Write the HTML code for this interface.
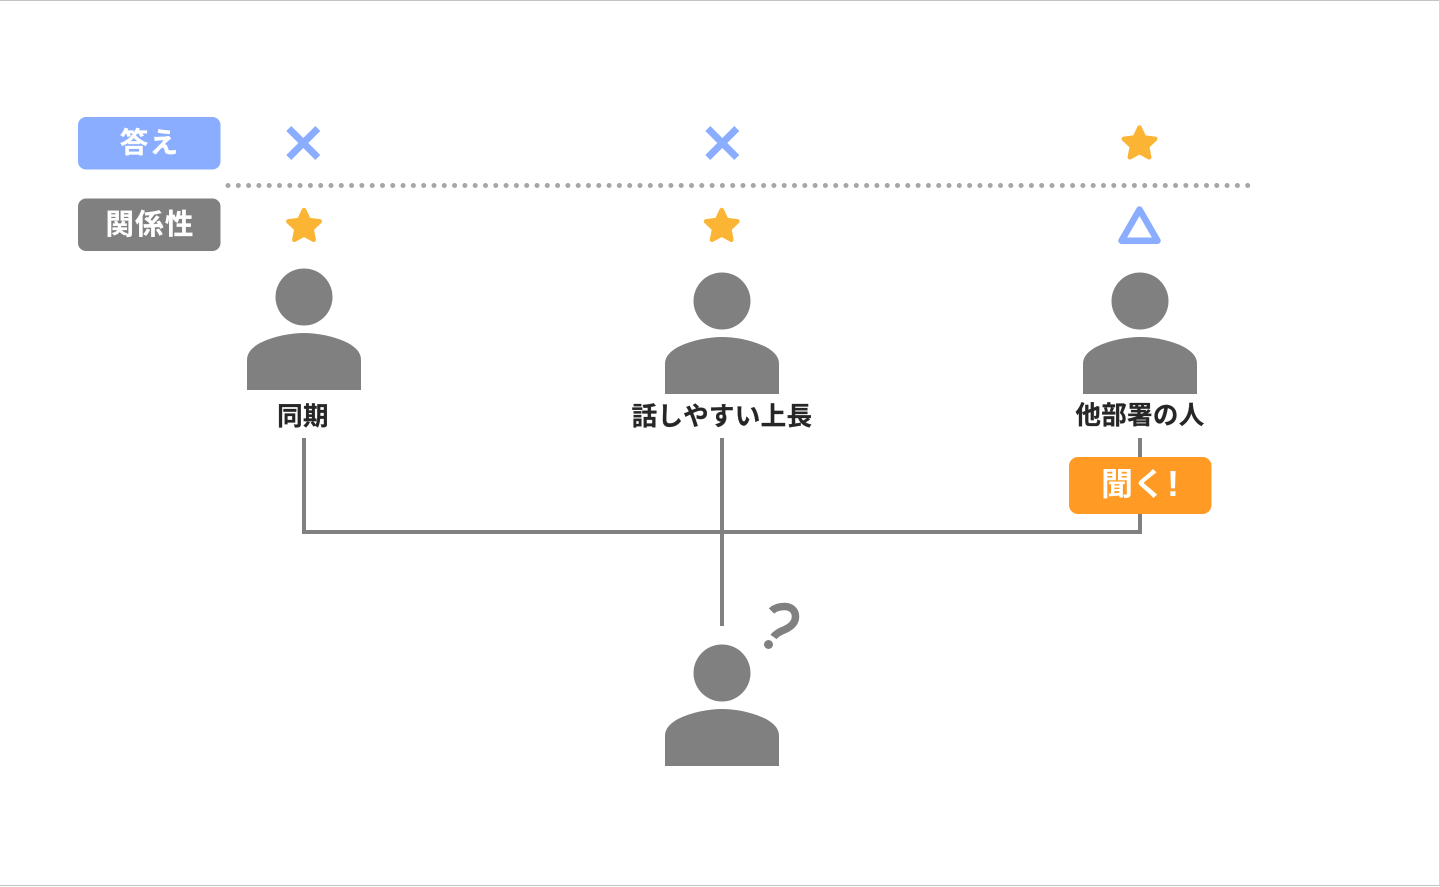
<!DOCTYPE html>
<html lang="ja"><head><meta charset="utf-8"><title>聞く相手</title>
<style>
html,body{margin:0;padding:0;background:#fff;width:1440px;height:887px;overflow:hidden}
svg{display:block}
text{font-family:"Liberation Sans","Noto Sans CJK JP",sans-serif;font-weight:700;text-anchor:middle}
.lb{fill:#262626;stroke:#262626;stroke-width:.25px;font-size:25.500px;letter-spacing:.35px}
.wh{fill:#fff;stroke:#fff;stroke-width:.25px;font-size:28.500px;letter-spacing:1.200px}
</style></head><body>
<svg width="1440" height="887" viewBox="0 0 1440 887" xmlns="http://www.w3.org/2000/svg">
<defs>
<g id="p"><circle cx="0" cy="-36" r="28.5" fill="#808080"/>
<path d="M-57 57V27C-57 19-51 14-44 10C-30 3-13 0 0 0C13 0 30 3 44 10C51 14 57 19 57 27V57Z" fill="#808080"/></g>
<polygon id="s" points="0,-16.500 4.700,-6.500 15.700,-5.100 7.600,2.500 9.700,13.300 0,8 -9.700,13.300 -7.600,2.500 -15.700,-5.100 -4.700,-6.500" fill="#fbb434" stroke="#fbb434" stroke-width="4.500" stroke-linejoin="round"/>
<path id="x" d="M-14.500-14.500L14.500 14.500M14.500-14.500L-14.500 14.500" stroke="#8aadff" stroke-width="7" fill="none"/>
</defs>
<rect x="0" y="0" width="1440" height="1" fill="#c4c4c4"/>
<rect x="1439" y="0" width="1" height="886" fill="#d8d8d8"/>
<rect x="0" y="885" width="1440" height="1" fill="#c4c4c4"/>

<rect x="78" y="117" width="142.500" height="52.500" rx="8" fill="#8aadff"/>
<text class="wh" x="149.500" y="152.500">答え</text>
<rect x="78" y="198.500" width="142.500" height="52.500" rx="8" fill="#808080"/>
<text class="wh" x="150" y="234">関係性</text>

<use href="#x" x="303.300" y="143"/>
<use href="#x" x="722.300" y="143"/>
<use href="#s" x="1139.500" y="144"/>
<line x1="228" y1="185.500" x2="1248" y2="185.500" stroke="#a6a6a6" stroke-width="5" stroke-linecap="round" stroke-dasharray="0 10.300"/>
<use href="#s" x="304" y="226.500"/>
<use href="#s" x="721.700" y="226.500"/>
<path d="M1139.500 209.500L1121.500 240.700H1157.500Z" fill="none" stroke="#8aadff" stroke-width="6.500" stroke-linejoin="round"/>

<use href="#p" x="304" y="333"/>
<use href="#p" x="722" y="337"/>
<use href="#p" x="1140" y="337"/>
<use href="#p" x="722" y="709"/>

<text class="lb" x="303" y="425">同期</text>
<text class="lb" x="722" y="425">話しやすい上長</text>
<text class="lb" x="1140" y="424">他部署の人</text>

<path d="M304 438V532H1140V438M722 438V626" fill="none" stroke="#808080" stroke-width="4"/>
<rect x="1069" y="457" width="142.500" height="57" rx="9" fill="#ff9a24"/>
<text x="1117" y="495" fill="#fff" style="font-size:32px">聞</text>
<text x="1149" y="495" fill="#fff" style="font-size:32px">く</text>
<text x="1173" y="496" fill="#fff" style="font-size:36px">!</text>

<path d="M771.500 611C775 607.500 780 606.500 784.500 606.500C791.500 606.500 795.500 611 795.500 616.500C795.500 623 790.500 627 785 629.500C780 631.500 776 633.500 773.500 637" fill="none" stroke="#808080" stroke-width="7.500"/>
<circle cx="768.500" cy="644.500" r="4.500" fill="#808080"/>
</svg>
</body></html>
